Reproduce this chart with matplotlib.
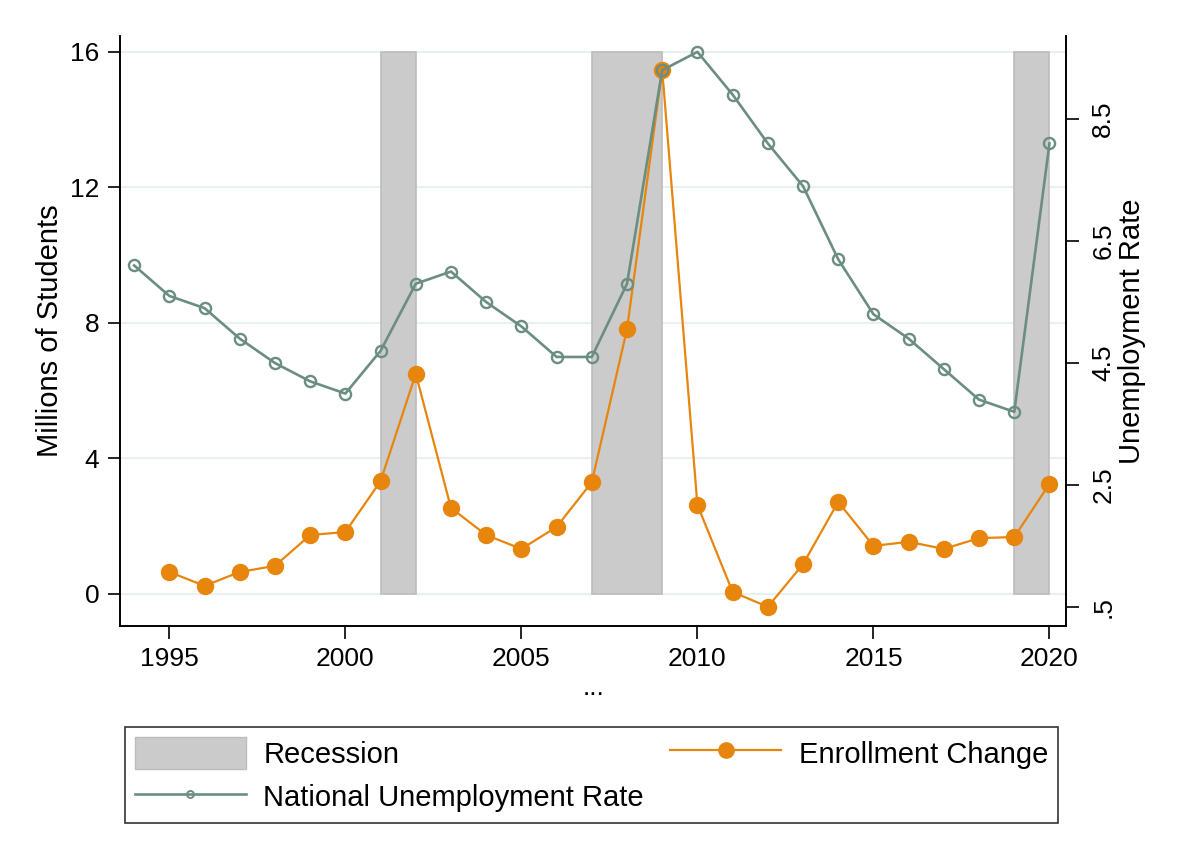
import matplotlib.pyplot as plt
from matplotlib.patches import Patch
from matplotlib.lines import Line2D

plt.rcParams['font.family'] = ['Liberation Sans', 'DejaVu Sans']

# data
years = list(range(1994, 2021))
unemp = [6.1, 5.6, 5.4, 4.9, 4.5, 4.2, 4.0, 4.7, 5.8, 6.0, 5.5, 5.1, 4.6, 4.6,
         5.8, 9.3, 9.6, 8.9, 8.1, 7.4, 6.2, 5.3, 4.9, 4.4, 3.9, 3.7, 8.1]
enroll_years = list(range(1995, 2021))
enroll = [0.65, 0.24, 0.65, 0.83, 1.74, 1.83, 3.33, 6.5, 2.54, 1.74, 1.33, 1.98,
          3.3, 7.82, 15.47, 2.63, 0.06, -0.38, 0.88, 2.72, 1.42, 1.54, 1.33,
          1.65, 1.68, 3.25]
rec_start = [2001, 2007, 2019]
rec_end = [2002, 2009, 2020]
rec_top = 16

left_ticks = [0, 4, 8, 12, 16]
right_ticks = [0.5, 2.5, 4.5, 6.5, 8.5]
right_labels = ['.5', '2.5', '4.5', '6.5', '8.5']
x_ticks = [1995, 2000, 2005, 2010, 2015, 2020]

orange = '#e8850c'
green = '#6b8e80'
fs = 19
fs_big = 21

fig = plt.figure(figsize=(11.77, 8.58), dpi=100)
ax = fig.add_axes([0.102, 0.2704, 0.804, 0.6876])
ax2 = ax.twinx()

# recession bars
widths = [e - s for s, e in zip(rec_start, rec_end)]
ax.bar(rec_start, [rec_top] * len(rec_start), width=widths, align='edge',
       color='#cbcbcb', edgecolor='#bcbcbc', linewidth=1.2, zorder=1)

ax.plot(enroll_years, enroll, color=orange, lw=1.6, marker='o', ms=11.5,
        zorder=3)
ax2.plot(years, unemp, color=green, lw=1.9, marker='o', ms=8,
         mfc='none', mec=green, mew=1.7, zorder=3)

ax.set_xlim(1993.6, 2020.48)
ax.set_ylim(-0.945, 16.47)
ax2.set_ylim(0.19, 9.86)

ax.set_yticks(left_ticks)
ax.set_yticklabels([str(t) for t in left_ticks], fontsize=fs)
ax.set_xticks(x_ticks)
ax.set_xticklabels([str(t) for t in x_ticks], fontsize=fs)
ax2.set_yticks(right_ticks)
ax2.set_yticklabels(right_labels, fontsize=fs, rotation=90, va='center')

ax.grid(axis='y', color='#e8f0f1', lw=1.5)
ax.set_axisbelow(True)

for a in (ax, ax2):
    a.spines['top'].set_visible(False)
    a.tick_params(length=9, width=1.2, color='black', pad=6)
    for s in ('left', 'right', 'bottom'):
        a.spines[s].set_linewidth(1.2)
ax2.tick_params(pad=9)

ax.set_ylabel('Millions of Students', fontsize=fs_big, labelpad=4)
ax2.set_ylabel('Unemployment Rate', fontsize=fs_big, labelpad=2)
ax.set_xlabel('...', fontsize=fs, labelpad=4)

handles = [Patch(facecolor='#cbcbcb', edgecolor='#bcbcbc'),
           Line2D([], [], color=green, lw=1.9, marker='o', ms=5, mfc='none',
                  mec=green, mew=1.4),
           Line2D([], [], color=orange, lw=1.6, marker='o', ms=11)]
labels = ['Recession', 'National Unemployment Rate', 'Enrollment Change']
leg = fig.legend(handles, labels, loc='lower left', ncol=2, mode='expand',
                 bbox_to_anchor=(0.106, 0.041, 0.793, 0.118), fontsize=fs_big,
                 handlelength=3.8, handleheight=1.3, frameon=True, fancybox=False,
                 edgecolor='black', borderaxespad=0, columnspacing=2,
                 labelspacing=0.4, handletextpad=0.6, borderpad=0.35)
leg.get_frame().set_linewidth(1.2)

fig.savefig('out.png', dpi=100)
